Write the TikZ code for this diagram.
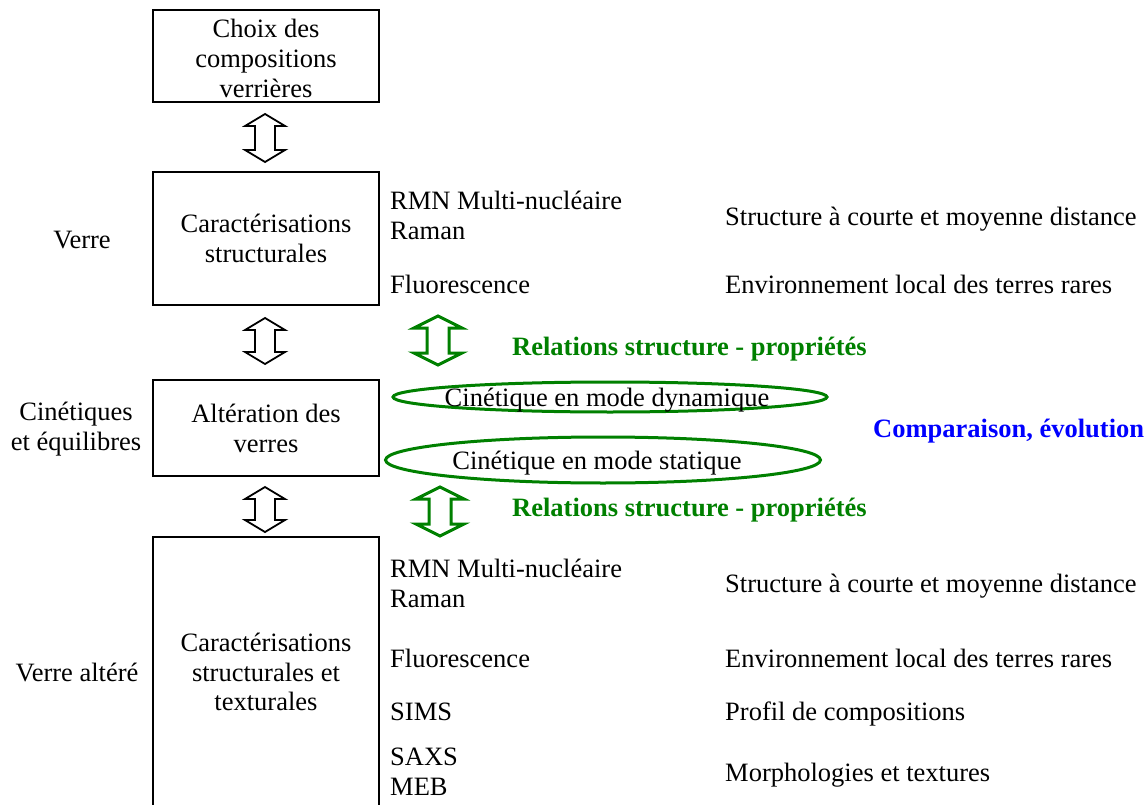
\documentclass[tikz,border=0pt]{standalone}
\usepackage{fontspec}
\setmainfont{Liberation Serif}
\usetikzlibrary{shapes.geometric}
\definecolor{vgreen}{RGB}{0,128,0}
\definecolor{vblue}{RGB}{0,0,255}
\newcommand\dblarrow[7]{%
  \draw[#1] (#2,#3) -- (#2+#5,#3+#7) -- (#2+#6,#3+#7) -- (#2+#6,#4-#7) -- (#2+#5,#4-#7)
    -- (#2,#4) -- (#2-#5,#4-#7) -- (#2-#6,#4-#7) -- (#2-#6,#3+#7) -- (#2-#5,#3+#7) -- cycle;}
\begin{document}
\begin{tikzpicture}[x=1pt,y=-1pt,
  every node/.style={font=\fontsize{26.5}{29.8}\selectfont, inner sep=0pt},
  lbl/.style={anchor=west,text height=18pt,text depth=6.5pt},
  ctr/.style={align=center},
  box/.style={draw,line width=2.6pt,minimum width=226pt},
  barrow/.style={draw=black,line width=1.8pt,fill=white,line join=miter},
  garrow/.style={draw=vgreen,line width=3pt,fill=white,line join=miter},
  ell/.style={draw=vgreen,line width=3pt,ellipse,inner sep=0pt},
  gtext/.style={anchor=west,text=vgreen,font=\fontsize{26.5}{29.8}\selectfont\bfseries},
]
\useasboundingbox (0,0) rectangle (1148,805);
\clip (0,0) rectangle (1148,805);
% boxes
\node[box,minimum height=92pt] (b1) at (266,56) {};
\node[ctr] (t1) at (266,58.5) {Choix des\\compositions\\verrières};
\node[box,minimum height=133pt] (b2) at (266,238.5) {};
\node[ctr] (t2) at (266,238.5) {Caractérisations\\structurales};
\node[box,minimum height=96pt] (b3) at (266,428) {};
\node[ctr] (t3) at (266,428.5) {Altération des\\verres};
\node[box,minimum height=300pt] (b4) at (266,687) {};
\node[ctr] (t4) at (266,672) {Caractérisations\\structurales et\\texturales};
% left labels
\node (l1) at (82,240) {Verre};
\node[ctr] (l2) at (76,429) {Cinétiques\\et équilibres};
\node (l3) at (77,672) {Verre altéré};
% block arrows
\dblarrow{barrow}{265}{114}{162}{20}{10}{12}
\dblarrow{barrow}{265}{318}{364}{20}{10}{12}
\dblarrow{barrow}{265}{487}{532}{20}{10}{12}
\dblarrow{garrow}{438}{316}{365}{24}{11}{12}
\dblarrow{garrow}{440}{487}{536}{24}{11}{12}
% green labels
\node[gtext] (g1) at (512,349) {Relations structure - propriétés};
\node[gtext] (g2) at (512,510) {Relations structure - propriétés};
\node[anchor=west,text=vblue,font=\fontsize{26.5}{29.8}\selectfont\bfseries] (cmp) at (873,431) {Comparaison, évolution};
% ellipses
\node[ell,minimum width=434pt,minimum height=30pt] (e1) at (610,397) {};
\node (e1t) at (607,400) {Cinétique en mode dynamique};
\node[ell,minimum width=435pt,minimum height=46pt] (e2) at (603,460) {};
\node (e2t) at (597,463) {Cinétique en mode statique};
% method column
\node[lbl] (m1) at (390,204) {RMN Multi-nucléaire};
\node[lbl] (m2) at (390,234) {Raman};
\node[lbl] (m3) at (390,288) {Fluorescence};
\node[lbl] (m4) at (390,572) {RMN Multi-nucléaire};
\node[lbl] (m5) at (390,602) {Raman};
\node[lbl] (m6) at (390,662) {Fluorescence};
\node[lbl] (m7) at (390,715) {SIMS};
\node[lbl] (m8) at (390,760) {SAXS};
\node[lbl] (m9) at (390,790) {MEB};
% results column
\node[lbl] (r1) at (725,220) {Structure à courte et moyenne distance};
\node[lbl] (r2) at (725,288) {Environnement local des terres rares};
\node[lbl] (r3) at (725,587) {Structure à courte et moyenne distance};
\node[lbl] (r4) at (725,662) {Environnement local des terres rares};
\node[lbl] (r5) at (725,715) {Profil de compositions};
\node[lbl] (r6) at (725,776) {Morphologies et textures};
\end{tikzpicture}
\end{document}
